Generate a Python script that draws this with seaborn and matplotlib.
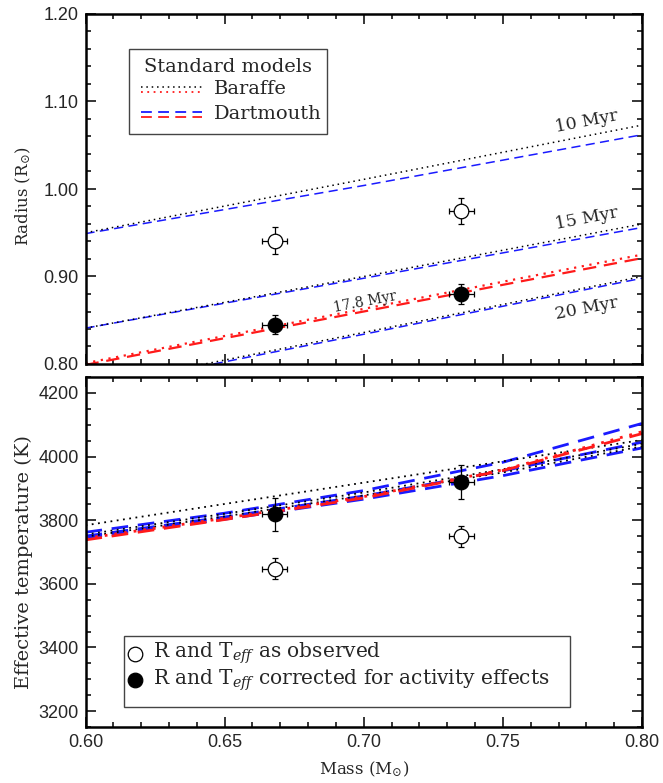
import numpy as np
import pandas as pd
import matplotlib
matplotlib.use("Agg")
import matplotlib.pyplot as plt
import seaborn as sns
from matplotlib.ticker import MultipleLocator, FormatStrFormatter
from matplotlib.patches import Rectangle

# ---------------- data ----------------
mass_r = [0.60, 0.70, 0.80]
bar_r_10 = [0.950, 1.011, 1.073]
dar_r_10 = [0.949, 1.004, 1.062]
bar_r_15 = [0.841, 0.900, 0.960]
dar_r_15 = [0.841, 0.898, 0.956]
bar_r_20 = [0.773, 0.836, 0.900]
dar_r_20 = [0.771, 0.834, 0.898]
bar_r_178 = [0.801, 0.863, 0.925]
dar_r_178 = [0.799, 0.860, 0.921]

mass_t = [0.60, 0.65, 0.70, 0.75, 0.80]
bar_t_10 = [3784, 3851, 3918, 3985, 4052]
bar_t_15 = [3755, 3820, 3887, 3960, 4040]
bar_t_20 = [3748, 3812, 3878, 3950, 4032]
dar_t_10 = [3762, 3822, 3893, 3982, 4104]
dar_t_15 = [3750, 3810, 3876, 3955, 4045]
dar_t_20 = [3745, 3803, 3866, 3940, 4027]
bar_t_178 = [3743, 3806, 3874, 3958, 4078]
dar_t_178 = [3738, 3802, 3870, 3956, 4072]

star_mass = [0.668, 0.735]
mass_err = [0.0045, 0.0045]
r_obs = [0.941, 0.975]
r_obs_err = [0.015, 0.015]
r_cor = [0.845, 0.880]
r_cor_err = [0.011, 0.011]
t_obs = [3647, 3750]
t_obs_err = [33, 33]
t_cor = [3818, 3920]
t_cor_err = [52, 52]

age_labels = ["10 Myr", "15 Myr", "20 Myr"]
age_label_pos = [(0.780, 1.077), (0.780, 0.9665), (0.780, 0.8636)]
fit_label = "17.8 Myr"
fit_label_pos = (0.7004, 0.871)

# ---------------- style ----------------
sns.set_theme(style="ticks")
plt.rcParams["font.family"] = ["DejaVu Serif"]
plt.rcParams["mathtext.fontset"] = "dejavuserif"

W, H = 663, 783
fig = plt.figure(figsize=(W / 100, H / 100), dpi=100)
L, R = 85.5 / W, 642 / W
ax1 = fig.add_axes([L, 1 - 364 / H, R - L, 350 / H])
ax2 = fig.add_axes([L, 1 - 727 / H, R - L, 350 / H])

DOT = (0, (1, 2.5))
DASH = (0, (6, 3.5))
BLUE = "#1a1aff"
RED = "#ff1a1a"


def line(ax, x, y, color, ls, lw):
    sns.lineplot(x=x, y=y, ax=ax, color=color, linestyle=ls, lw=lw,
                 estimator=None, sort=True)


# top panel lines
for b, d in [(bar_r_10, dar_r_10), (bar_r_15, dar_r_15), (bar_r_20, dar_r_20)]:
    line(ax1, mass_r, d, BLUE, DASH, 1.1)
    line(ax1, mass_r, b, "black", DOT, 1.1)
line(ax1, mass_r, dar_r_178, RED, DASH, 1.6)
line(ax1, mass_r, bar_r_178, RED, DOT, 1.6)

# bottom panel lines
for d in [dar_t_10, dar_t_15, dar_t_20]:
    line(ax2, mass_t, d, BLUE, DASH, 2.0)
for b in [bar_t_10, bar_t_15, bar_t_20]:
    line(ax2, mass_t, b, "black", DOT, 1.3)
line(ax2, mass_t, dar_t_178, RED, DASH, 2.0)
line(ax2, mass_t, bar_t_178, RED, DOT, 2.0)


def points(ax, y_obs, e_obs, y_cor, e_cor):
    ax.errorbar(star_mass, y_obs, xerr=mass_err, yerr=e_obs, fmt="none",
                ecolor="black", elinewidth=0.9, capsize=2.5, capthick=0.9, zorder=4)
    ax.errorbar(star_mass, y_cor, xerr=mass_err, yerr=e_cor, fmt="none",
                ecolor="black", elinewidth=0.9, capsize=2.5, capthick=0.9, zorder=4)
    sns.scatterplot(x=star_mass, y=y_obs, ax=ax, s=110, facecolor="white",
                    edgecolor="black", linewidth=0.9, zorder=5)
    sns.scatterplot(x=star_mass, y=y_cor, ax=ax, s=110, color="black",
                    edgecolor="black", linewidth=0.9, zorder=5)


points(ax1, r_obs, r_obs_err, r_cor, r_cor_err)
points(ax2, t_obs, t_obs_err, t_cor, t_cor_err)

# labels on model lines
for txt, (x, y) in zip(age_labels, age_label_pos):
    ax1.text(x, y, txt, fontsize=12.5, rotation=11, ha="center", va="center")
ax1.text(fit_label_pos[0], fit_label_pos[1], fit_label, fontsize=10,
         rotation=11, ha="center", va="center")

# axes formatting
for ax in (ax1, ax2):
    ax.set_xlim(0.60, 0.80)
    ax.xaxis.set_major_locator(MultipleLocator(0.05))
    ax.xaxis.set_minor_locator(MultipleLocator(0.01))
    ax.tick_params(which="both", direction="in", top=True, right=True,
                   width=1.1, color="black")
    ax.tick_params(which="major", length=7)
    ax.tick_params(which="minor", length=3.8)
    for s in ax.spines.values():
        s.set_linewidth(1.8)
        s.set_color("black")
    ax.tick_params(labelsize=13, pad=5)

ax1.set_ylim(0.80, 1.20)
ax1.yaxis.set_major_locator(MultipleLocator(0.10))
ax1.yaxis.set_minor_locator(MultipleLocator(0.02))
ax1.yaxis.set_major_formatter(FormatStrFormatter("%.2f"))
ax1.tick_params(labelbottom=False)
ax1.set_xlabel("")
ax1.set_ylabel(r"Radius (R$_{\odot}$)", fontsize=12)
ax1.yaxis.set_label_coords(-0.095, 0.48)

ax2.set_ylim(3150, 4250)
ax2.yaxis.set_major_locator(MultipleLocator(200))
ax2.yaxis.set_minor_locator(MultipleLocator(50))
ax2.xaxis.set_major_formatter(FormatStrFormatter("%.2f"))
ax2.set_xlabel(r"Mass (M$_{\odot}$)", fontsize=12, labelpad=6)
ax2.set_ylabel("Effective temperature (K)", fontsize=14)
ax2.yaxis.set_label_coords(-0.095, 0.47)

for ax in (ax1, ax2):
    for lab in ax.get_xticklabels() + ax.get_yticklabels():
        lab.set_family("Liberation Sans")
        lab.set_fontsize(13)

# ---- legend: standard models (top panel) ----
def px2ax(ax, px, py, top, bottom):
    return ((px - 85.5) / (642 - 85.5), (bottom - py) / (bottom - top))

LEG_FS = 14
t1, b1 = 14, 364
x0, y0 = px2ax(ax1, 129, 134, t1, b1)
x1, y1 = px2ax(ax1, 327, 49, t1, b1)
ax1.add_patch(Rectangle((x0, y0), x1 - x0, y1 - y0, transform=ax1.transAxes,
                        facecolor="white", edgecolor="#444444", lw=1.0, zorder=6))
ax1.text((x0 + x1) / 2, px2ax(ax1, 0, 67, t1, b1)[1], "Standard models",
         transform=ax1.transAxes, ha="center", va="center", fontsize=LEG_FS, zorder=7)
lx0 = px2ax(ax1, 141, 0, t1, b1)[0]
lx1 = px2ax(ax1, 202, 0, t1, b1)[0]
tx = px2ax(ax1, 214, 0, t1, b1)[0]
for py, col, ls, lw in [(87.3, "black", DOT, 1.1), (91.7, RED, DOT, 1.3),
                        (111.7, BLUE, DASH, 1.3), (117.3, RED, DASH, 1.3)]:
    yy = px2ax(ax1, 0, py, t1, b1)[1]
    ax1.plot([lx0, lx1], [yy, yy], transform=ax1.transAxes, color=col,
             linestyle=ls, lw=lw, zorder=7)
ax1.text(tx, px2ax(ax1, 0, 89, t1, b1)[1], "Baraffe", transform=ax1.transAxes,
         ha="left", va="center", fontsize=LEG_FS, zorder=7)
ax1.text(tx, px2ax(ax1, 0, 114, t1, b1)[1], "Dartmouth", transform=ax1.transAxes,
         ha="left", va="center", fontsize=LEG_FS, zorder=7)

# ---- legend: data points (bottom panel) ----
t2, b2 = 377, 727
x0, y0 = px2ax(ax2, 123.5, 706.5, t2, b2)
x1, y1 = px2ax(ax2, 570, 636, t2, b2)
ax2.add_patch(Rectangle((x0, y0), x1 - x0, y1 - y0, transform=ax2.transAxes,
                        facecolor="white", edgecolor="#444444", lw=1.0, zorder=6))
mx = px2ax(ax2, 135, 0, t2, b2)[0]
ya = px2ax(ax2, 0, 653.5, t2, b2)[1]
yb = px2ax(ax2, 0, 680, t2, b2)[1]
ax2.scatter([mx], [ya], s=110, facecolor="white", edgecolor="black", lw=0.9,
            transform=ax2.transAxes, zorder=7)
ax2.scatter([mx], [yb], s=110, facecolor="black", edgecolor="black", lw=0.9,
            transform=ax2.transAxes, zorder=7)
tx2 = px2ax(ax2, 153, 0, t2, b2)[0]
ax2.text(tx2, ya, r"R and T$_{\it eff}$ as observed", transform=ax2.transAxes,
         ha="left", va="center", fontsize=14.5, zorder=7)
ax2.text(tx2, yb, r"R and T$_{\it eff}$ corrected for activity effects",
         transform=ax2.transAxes, ha="left", va="center", fontsize=14.5, zorder=7)

fig.savefig("out.png", dpi=100)
